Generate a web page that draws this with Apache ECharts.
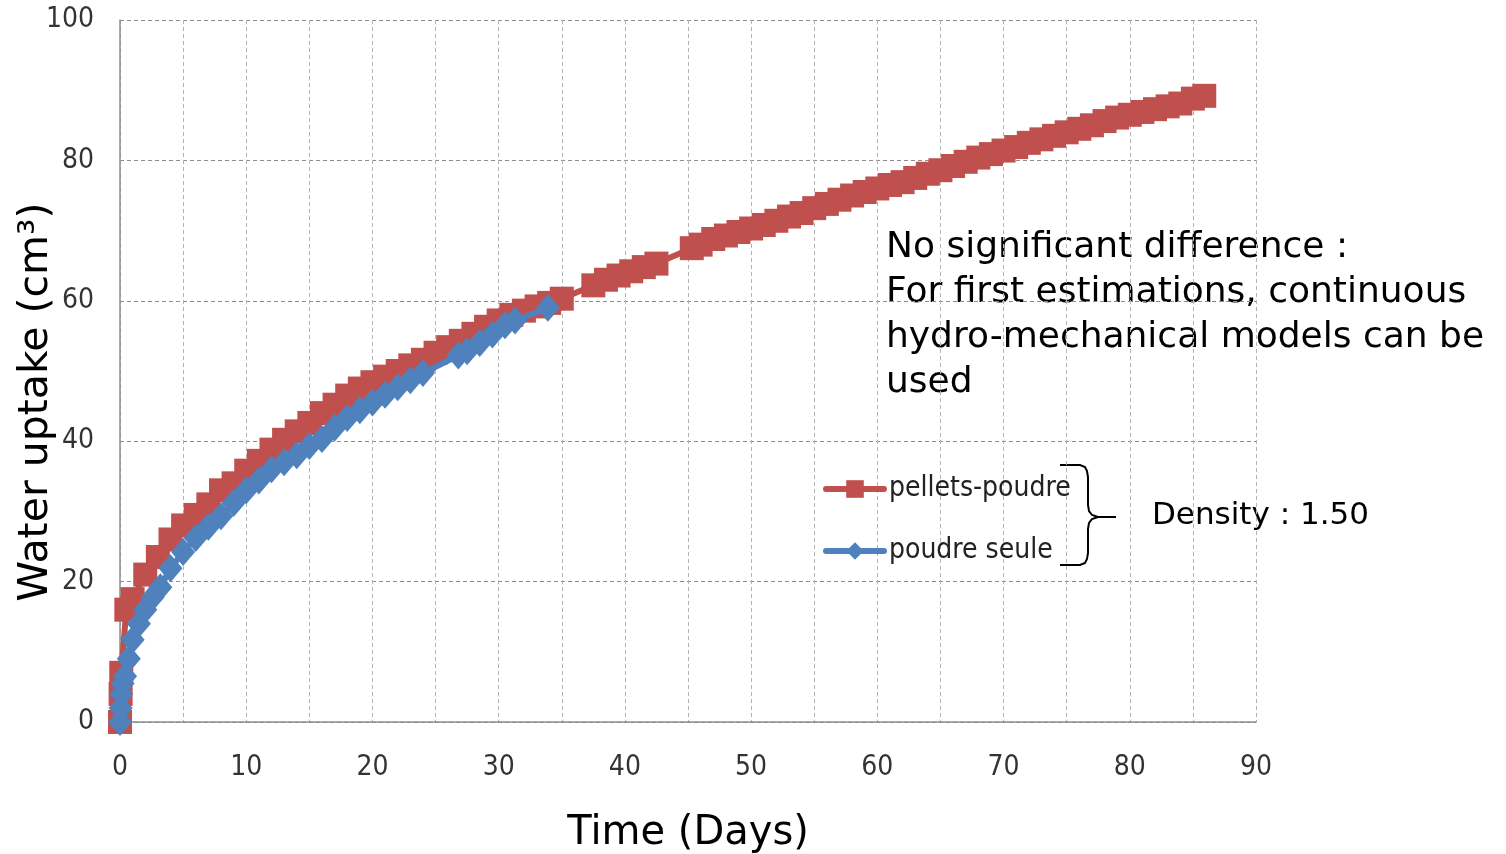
<!DOCTYPE html>
<html>
<head>
<meta charset="utf-8">
<script src="https://cdn.jsdelivr.net/npm/echarts@6/dist/echarts.min.js"></script>
<style>
  html, body { margin: 0; padding: 0; background: #fff; }
  #chart { width: 1506px; height: 854px; }
</style>
</head>
<body>
<div id="chart"></div>
<script>
// pellets-poudre (red squares)
const pelletsDays = [0, 0.05, 0.1, 0.5, 1, 2, 3, 4, 5, 6, 7, 8, 9, 10, 11, 12, 13, 14, 15, 16, 17, 18, 19, 20,
  21, 22, 23, 24, 25, 26, 27, 28, 29, 30, 31, 32, 33, 34, 35, 37.5, 38.5, 39.5, 40.5, 41.5, 42.5,
  45.3, 46, 47, 48, 49, 50, 51, 52, 53, 54, 55, 56, 57, 58, 59, 60, 61, 62, 63, 64, 65, 66, 67, 68, 69, 70,
  71, 72, 73, 74, 75, 76, 77, 78, 79, 80, 81, 82, 83, 84, 85, 85.9];
const pelletsUptake = [0, 4, 7, 16, 17.5, 21, 23.5, 26, 28, 29.5, 31, 33, 34, 35.8, 37.2, 38.8, 40.2, 41.4, 42.6, 44, 45.2, 46.5, 47.5, 48.4,
  49.2, 50, 50.8, 51.6, 52.6, 53.4, 54.3, 55.3, 56.3, 57.2, 58, 58.6, 59.2, 59.7, 60.3, 62.2, 63, 63.6, 64.2, 64.8, 65.3,
  67.5, 68, 68.8, 69.3, 69.8, 70.3, 70.8, 71.4, 72, 72.5, 73.2, 73.8, 74.4, 75, 75.5, 76, 76.5, 76.9, 77.5, 78.1, 78.6, 79.2, 79.8, 80.4, 80.9, 81.4,
  81.9, 82.5, 83, 83.5, 84, 84.5, 85, 85.6, 86.1, 86.5, 86.9, 87.3, 87.7, 88.1, 88.8, 89.2];

// poudre seule (blue diamonds)
const poudreDays = [0, 0.05, 0.1, 0.2, 0.4, 0.7, 1, 1.5, 2, 2.6, 3.2, 4, 5, 6, 7, 8, 9, 10, 11, 12, 13, 14, 15, 16,
  17, 18, 19, 20, 21, 22, 23, 24, 26.8, 27.5, 28.5, 29.5, 30.5, 31.3, 33.9];
const poudreUptake = [0, 2, 4, 5.5, 6.5, 9, 11.7, 14, 16, 17.8, 19.2, 21.9, 24.2, 26.2, 27.8, 29.3, 31.2, 33, 34.4, 36, 37, 38, 39.3, 40.3,
  41.9, 43.3, 44.4, 45.5, 46.6, 47.7, 48.7, 49.7, 52.2, 52.8, 54, 55.2, 56.5, 57.2, 59];

const xTicks = [0, 10, 20, 30, 40, 50, 60, 70, 80, 90];
const yTicks = [0, 20, 40, 60, 80, 100];

const labelFont = "'Liberation Sans Narrow', 'DejaVu Sans Condensed', sans-serif";
const textFont = "'DejaVu Sans', sans-serif";

function pairs(xs, ys) {
    let out = [];
    for (let i = 0; i < xs.length; i++) {
        out.push([xs[i], ys[i]]);
    }
    return out;
}

let chartDom = document.getElementById('chart');
let myChart = echarts.init(chartDom);
let option;

option = {
    animation: false,
    grid: {
        left: 120,
        right: 250,
        top: 20,
        bottom: 132,
        containLabel: false,
        outerBoundsMode: 'none'
    },
    legend: {
        orient: 'vertical',
        left: 818,
        top: 470,
        itemGap: 34,
        itemWidth: 58,
        itemHeight: 22,
        lineStyle: { width: 6, cap: 'round' },
        textStyle: {
            fontFamily: labelFont,
            fontSize: 28,
            color: '#222'
        },
        data: ['pellets-poudre', 'poudre seule']
    },
    xAxis: {
        type: 'value',
        min: xTicks[0],
        max: xTicks[xTicks.length - 1],
        interval: 5,
        name: 'Time (Days)',
        nameLocation: 'middle',
        nameGap: 92,
        nameTextStyle: {
            fontFamily: textFont,
            fontSize: 40,
            color: '#000'
        },
        axisLine: { lineStyle: { color: '#8c8c8c', width: 1.5 } },
        axisTick: { show: false },
        axisLabel: {
            margin: 32,
            fontFamily: labelFont,
            fontSize: 28,
            color: '#333',
            formatter: function (v) {
                return xTicks.indexOf(v) >= 0 ? String(v) : '';
            }
        },
        splitLine: {
            show: true,
            lineStyle: { color: '#b4b4b4', type: [4, 3], width: 1 }
        }
    },
    yAxis: {
        type: 'value',
        min: yTicks[0],
        max: yTicks[yTicks.length - 1],
        interval: 20,
        axisLine: { show: true, lineStyle: { color: '#8c8c8c', width: 1.5 } },
        axisTick: { show: false },
        axisLabel: {
            margin: 26,
            fontFamily: labelFont,
            fontSize: 28,
            color: '#333'
        },
        splitLine: {
            show: true,
            lineStyle: { color: '#8c8c8c', type: [4, 3], width: 1 }
        }
    },
    series: [
        {
            name: 'pellets-poudre',
            type: 'line',
            data: pairs(pelletsDays, pelletsUptake),
            symbol: 'rect',
            symbolSize: 24,
            showAllSymbol: true,
            lineStyle: { color: '#C0504D', width: 6 },
            itemStyle: { color: '#C0504D' },
            z: 2
        },
        {
            name: 'poudre seule',
            type: 'line',
            data: pairs(poudreDays, poudreUptake),
            symbol: 'diamond',
            symbolSize: [24, 28],
            showAllSymbol: true,
            lineStyle: { color: '#4F81BD', width: 6 },
            itemStyle: { color: '#4F81BD' },
            z: 3
        }
    ],
    graphic: [
        // y axis title (placed by hand, it sits a bit below the axis middle)
        {
            type: 'text',
            x: 36,
            y: 402,
            rotation: Math.PI / 2,
            style: {
                text: 'Water uptake (cm³)',
                font: '41px ' + textFont,
                align: 'center',
                verticalAlign: 'middle',
                fill: '#000'
            }
        },
        {
            type: 'text',
            left: 886,
            top: 225,
            style: {
                text: 'No significant difference :\nFor first estimations, continuous\nhydro-mechanical models can be\nused',
                font: '36px ' + textFont,
                lineHeight: 45,
                fill: '#000'
            }
        },
        {
            type: 'text',
            left: 1152,
            top: 500,
            style: {
                text: 'Density : 1.50',
                font: '31px ' + textFont,
                fill: '#000'
            }
        },
        // curly bracket
        {
            type: 'polyline',
            shape: {
                points: [[1060, 465], [1080, 465], [1085, 467], [1087, 471], [1088, 477], [1088, 505],
                    [1089, 511], [1092, 515], [1098, 517], [1116, 517]]
            },
            style: { stroke: '#000', lineWidth: 2, fill: null }
        },
        {
            type: 'polyline',
            shape: {
                points: [[1098, 517], [1092, 519], [1089, 523], [1088, 529], [1088, 553],
                    [1087, 559], [1085, 563], [1080, 565], [1060, 565]]
            },
            style: { stroke: '#000', lineWidth: 2, fill: null }
        }
    ]
};

option && myChart.setOption(option);
</script>
</body>
</html>
